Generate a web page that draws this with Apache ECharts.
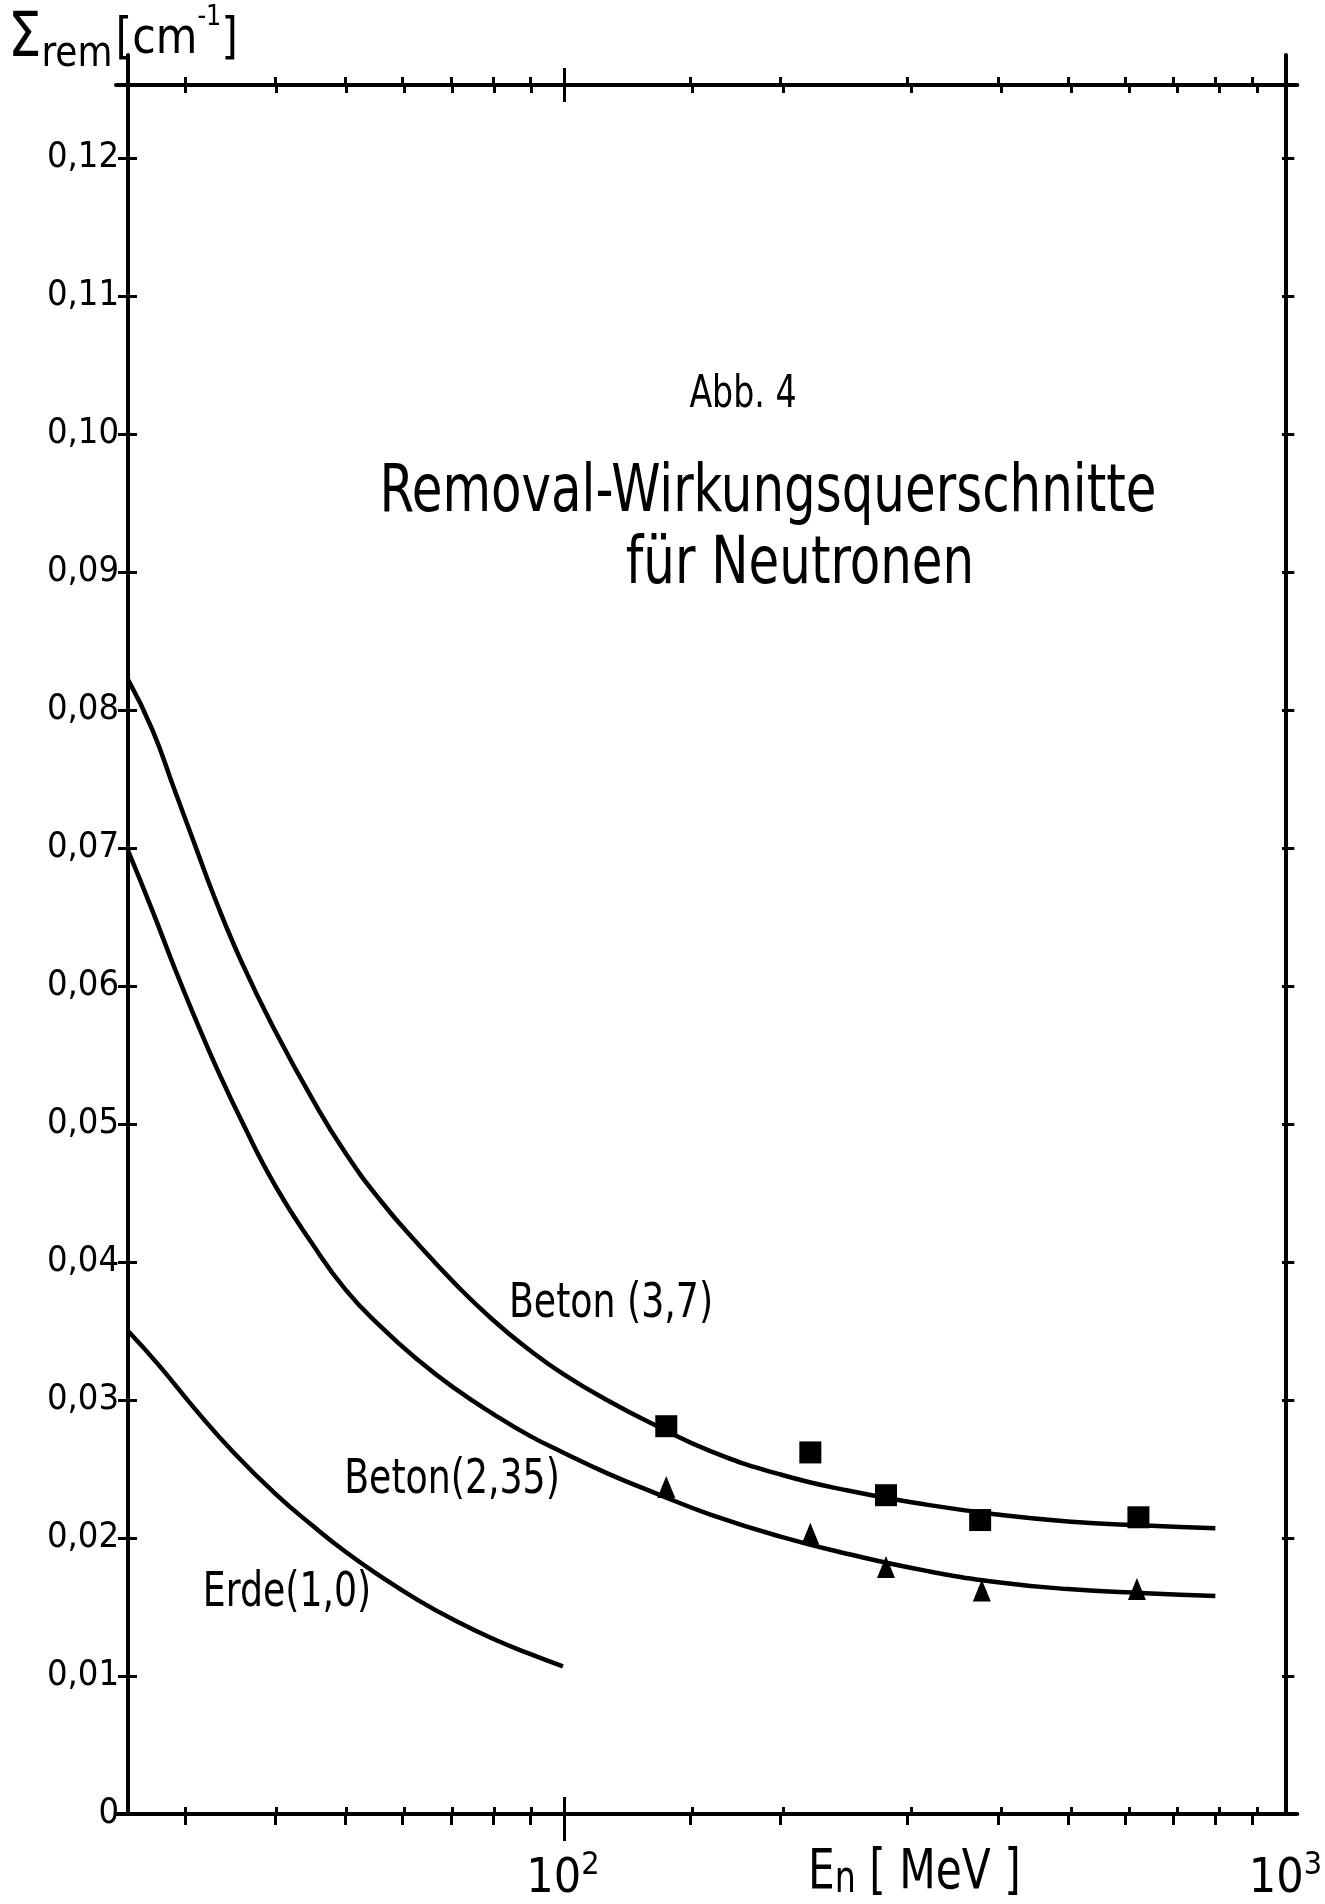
<!DOCTYPE html>
<html>
<head>
<meta charset="utf-8">
<script src="https://cdn.jsdelivr.net/npm/echarts@6/dist/echarts.min.js"></script>
<style>
html,body{margin:0;padding:0;background:#fff}
#c{width:1325px;height:1904px}
</style>
</head>
<body>
<div id="c"></div>
<script>
// ---------- data ----------
const energyGrid = [25, 27, 29, 31, 33, 36, 40, 45, 50, 56, 63, 71, 80, 90, 100, 115, 135, 160, 200, 250, 320, 400, 500, 640, 800];
const betonHighV = [0.0822, 0.0786, 0.0742, 0.0701, 0.0663, 0.0616, 0.0567, 0.0518, 0.0479, 0.0444, 0.0413, 0.0384, 0.0358, 0.0336, 0.0319, 0.0300, 0.0281, 0.0263, 0.0246, 0.0234, 0.0224, 0.0217, 0.0212, 0.0209, 0.0207];
const betonLowV  = [0.0698, 0.0655, 0.0613, 0.0576, 0.0543, 0.0501, 0.0455, 0.0413, 0.0380, 0.0353, 0.0329, 0.0308, 0.0290, 0.0274, 0.0262, 0.0247, 0.0232, 0.0217, 0.0201, 0.0188, 0.0176, 0.0168, 0.0163, 0.0160, 0.0158];

const erdeE = [25, 27.5, 31, 35, 40, 45, 50, 56, 63, 71, 80, 90, 100];
const erdeV = [0.0350, 0.0326, 0.0293, 0.0262, 0.0232, 0.0209, 0.0190, 0.0172, 0.0155, 0.0140, 0.0127, 0.0116, 0.0107];

const squaresE = [139, 220, 280, 378, 626];
const squaresV = [0.0281, 0.0262, 0.0231, 0.0213, 0.0215];

const trianglesE = [139, 220, 280, 380, 623];
const trianglesV = [0.0237, 0.0203, 0.0179, 0.0162, 0.0163];

const xMinorTicks = [30, 40, 50, 60, 70, 80, 90, 150, 200, 300, 400, 500, 600, 700, 800, 900];
const xMajorTicks = [100];
const xLabelValues = [100, 1000];
const yTickValues = [0, 0.01, 0.02, 0.03, 0.04, 0.05, 0.06, 0.07, 0.08, 0.09, 0.10, 0.11, 0.12];

// ---------- layout ----------
const FONT = "'DejaVu Sans Condensed', 'Liberation Sans Narrow', 'Liberation Sans', sans-serif";
const X_MIN = 24.06, X_MAX = 1038.8, Y_MAX = 0.12746;
const BLACK = '#000';
const SQX = 0.84; // horizontal squeeze of free text to mimic the narrow lettering
const axisLineStyle = {color: BLACK, width: 4};
const tickLineStyle = {color: BLACK, width: 3};

function pairs(xs, ys) { return xs.map((x, i) => [x, ys[i]]); }

const grids = [];
const xAxes = [];
const yAxes = [];

function addX(gi, pos, ticks, len, inside, showLine, label) {
  xAxes.push({
    gridIndex: gi, type: 'log', logBase: 10, min: X_MIN, max: X_MAX,
    position: pos, offset: pos === 'top' ? -30 : 0,
    axisLine: {show: showLine, onZero: false, lineStyle: axisLineStyle},
    axisTick: ticks ? {show: true, customValues: ticks, length: len, inside: inside, lineStyle: tickLineStyle} : {show: false},
    axisLabel: label || {show: false},
    splitLine: {show: false}, minorTick: {show: false}, minorSplitLine: {show: false}
  });
}
function addY(gi, pos, ticks, len, inside, showLine, label) {
  yAxes.push({
    gridIndex: gi, type: 'value', min: 0, max: Y_MAX,
    position: pos, offset: -12,
    axisLine: {show: showLine, onZero: false, lineStyle: axisLineStyle},
    axisTick: ticks ? {show: true, customValues: ticks, length: len, inside: inside, lineStyle: tickLineStyle} : {show: false},
    axisLabel: label || {show: false},
    splitLine: {show: false}
  });
}

for (let g = 0; g < 4; g++) {
  grids.push({left: 116, right: 23, top: 55, bottom: 90, containLabel: false});
}

const xLabel = {
  show: true, customValues: xLabelValues, margin: 36,
  formatter: function (v) {
    const e = v > 10 ? Math.round(Math.log10(v)) : Math.round(v);
    return '{a|10}{s|' + e + '}';
  },
  rich: {
    a: {fontFamily: FONT, fontSize: 48, lineHeight: 54, color: BLACK, verticalAlign: 'bottom'},
    s: {fontFamily: FONT, fontSize: 32, lineHeight: 32, color: BLACK, verticalAlign: 'top'}
  }
};
const yLabel = {
  show: true, customValues: yTickValues, margin: 9,
  fontFamily: FONT, fontSize: 36, color: BLACK,
  formatter: function (v) { return v === 0 ? '0' : v.toFixed(2).replace('.', ','); }
};

// grid 0: axis lines, outside minor ticks, labels
addX(0, 'bottom', xMinorTicks, 11, false, true, xLabel);
addX(0, 'top', xMinorTicks, 8, false, true, null);
addY(0, 'left', yTickValues, 10, false, true, yLabel);
addY(0, 'right', yTickValues, 9, false, true, null);
// grid 1: inside minor ticks
addX(1, 'bottom', xMinorTicks, 7, true, false, null);
addX(1, 'top', xMinorTicks, 8, true, false, null);
addY(1, 'left', yTickValues, 9, true, false, null);
addY(1, 'right', yTickValues, 8, true, false, null);
// grid 2: major tick outside
addX(2, 'bottom', xMajorTicks, 27, false, false, null);
addX(2, 'top', xMajorTicks, 17, false, false, null);
addY(2, 'left', null, 0, false, false, null);
addY(2, 'right', null, 0, false, false, null);
// grid 3: major tick inside
addX(3, 'bottom', xMajorTicks, 17, true, false, null);
addX(3, 'top', xMajorTicks, 17, true, false, null);
addY(3, 'left', null, 0, false, false, null);
addY(3, 'right', null, 0, false, false, null);

function txt(text, x, y, size) {
  return {
    type: 'text', x: x, y: y, z: 10, scaleX: SQX, scaleY: 1,
    style: {text: text, fontFamily: FONT, fontSize: size, fill: BLACK, align: 'center', verticalAlign: 'middle'}
  };
}

const lineCommon = {
  type: 'line', xAxisIndex: 0, yAxisIndex: 0, smooth: 0.5,
  symbol: 'none', showSymbol: false, lineStyle: {color: BLACK, width: 4.5}, z: 3
};

const option = {
  animation: false,
  backgroundColor: '#fff',
  grid: grids,
  xAxis: xAxes,
  yAxis: yAxes,
  graphic: [
    txt('Abb. 4', 743, 396, 44),
    txt('Removal-Wirkungsquerschnitte', 768, 494, 66),
    txt('für Neutronen', 800, 566, 66),
    txt('Beton (3,7)', 611, 1305, 48),
    txt('Beton(2,35)', 452, 1481, 48),
    txt('Erde(1,0)', 287, 1594, 48),
    {
      type: 'text', x: 8, y: 4, z: 10, scaleX: 0.95, scaleY: 1,
      style: {
        text: '{S|Σ}{r|rem} {u|[cm}{p|-1}{u|]}',
        align: 'left', verticalAlign: 'top', fill: BLACK,
        rich: {
          S: {fontFamily: FONT, fontSize: 62, lineHeight: 72, verticalAlign: 'middle', fill: BLACK},
          r: {fontFamily: FONT, fontSize: 42, lineHeight: 42, verticalAlign: 'bottom', fill: BLACK},
          u: {fontFamily: FONT, fontSize: 50, lineHeight: 50, verticalAlign: 'middle', fill: BLACK},
          p: {fontFamily: FONT, fontSize: 28, lineHeight: 28, verticalAlign: 'top', fill: BLACK}
        }
      }
    },
    {
      type: 'text', x: 808, y: 1845, z: 10, scaleX: SQX, scaleY: 1,
      style: {
        text: '{E|E}{n|n}{t| [ MeV ]}',
        align: 'left', verticalAlign: 'top', fill: BLACK,
        rich: {
          E: {fontFamily: FONT, fontSize: 56, lineHeight: 58, verticalAlign: 'top', fill: BLACK},
          n: {fontFamily: FONT, fontSize: 44, lineHeight: 44, verticalAlign: 'bottom', fill: BLACK},
          t: {fontFamily: FONT, fontSize: 56, lineHeight: 58, verticalAlign: 'top', fill: BLACK}
        }
      }
    }
  ],
  series: [
    Object.assign({}, lineCommon, {name: 'Beton (3,7)', data: pairs(energyGrid, betonHighV)}),
    Object.assign({}, lineCommon, {name: 'Beton (2,35)', data: pairs(energyGrid, betonLowV)}),
    Object.assign({}, lineCommon, {name: 'Erde (1,0)', data: pairs(erdeE, erdeV)}),
    {type: 'scatter', name: 'Beton (3,7) Messwerte', xAxisIndex: 0, yAxisIndex: 0, data: pairs(squaresE, squaresV),
     symbol: 'rect', symbolSize: 22, itemStyle: {color: BLACK, opacity: 1}, z: 5},
    {type: 'scatter', name: 'Beton (2,35) Messwerte', xAxisIndex: 0, yAxisIndex: 0, data: pairs(trianglesE, trianglesV),
     symbol: 'triangle', symbolSize: [18, 22], itemStyle: {color: BLACK, opacity: 1}, z: 5}
  ]
};

const chart = echarts.init(document.getElementById('c'), null, {renderer: 'canvas'});
chart.setOption(option);
</script>
</body>
</html>
